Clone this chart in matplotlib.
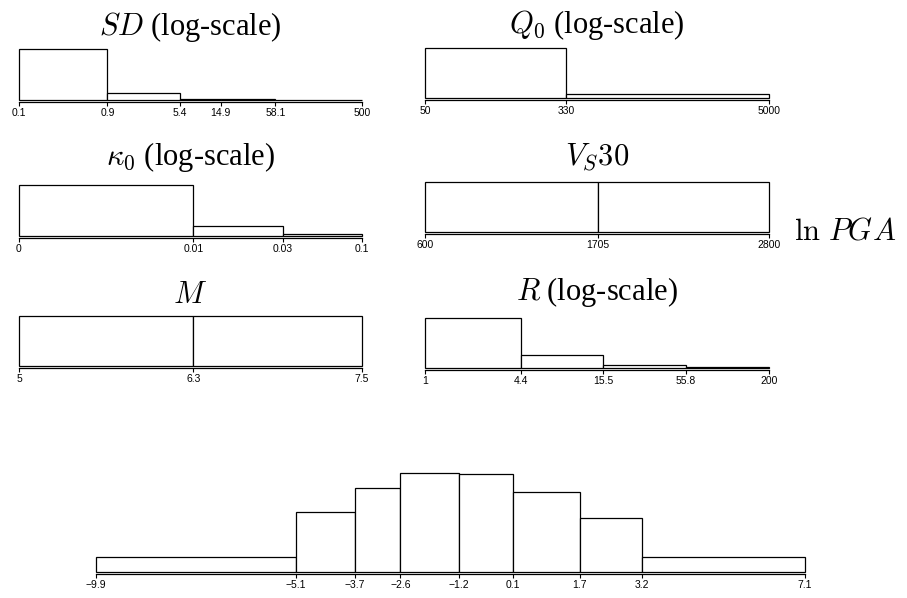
import numpy as np
import matplotlib
matplotlib.use("Agg")
import matplotlib.pyplot as plt

plt.rcParams['mathtext.fontset'] = 'cm'
plt.rcParams['font.family'] = ['Liberation Serif', 'DejaVu Serif']

# bin edges, relative bar heights and tick labels
sd_edges = [0.1, 0.9, 5.4, 14.9, 58.1, 500]
sd_heights = [1.0, 0.127, 0.02, 0.006, 0.002]
sd_labels = ['0.1', '0.9', '5.4', '14.9', '58.1', '500']

q0_edges = [50, 330, 5000]
q0_heights = [1.0, 0.068]
q0_labels = ['50', '330', '5000']

kappa_edges = [0.00073, 0.0089, 0.032, 0.1]
kappa_heights = [1.0, 0.19, 0.045]
kappa_labels = ['0', '0.01', '0.03', '0.1']

vs30_edges = [600, 1705, 2800]
vs30_heights = [1.0, 1.0]
vs30_labels = ['600', '1705', '2800']

m_edges = [5, 6.27, 7.5]
m_heights = [1.0, 1.0]
m_labels = ['5', '6.3', '7.5']

r_edges = [1, 4.4, 15.5, 55.8, 200]
r_heights = [1.0, 0.26, 0.066, 0.014]
r_labels = ['1', '4.4', '15.5', '55.8', '200']

pga_edges = [-9.9, -5.1, -3.7, -2.6, -1.2, 0.1, 1.7, 3.2, 7.1]
pga_heights = [14.7, 59.4, 84, 98.7, 98, 79.4, 54, 14.7]
pga_labels = [f"{v:.1f}".replace('-', '\u2212') for v in pga_edges]

W, H = 907, 598
fig = plt.figure(figsize=(W / 100, H / 100), dpi=100)


def panel(x0, x1, ybase, ytop, edges, heights, labels, log=False, title=None, ty=None):
    ax = fig.add_axes([x0 / W, 1 - ybase / H, (x1 - x0) / W, (ybase - ytop) / H])
    if log:
        ax.set_xscale('log')
    ax.bar(edges[:-1], heights, width=np.diff(edges), align='edge',
           color='white', edgecolor='black', linewidth=0.9, clip_on=False)
    ax.set_xlim(edges[0], edges[-1])
    ax.set_ylim(0, max(heights))
    for s in ['top', 'left', 'right']:
        ax.spines[s].set_visible(False)
    ax.spines['bottom'].set_position(('outward', 1.5))
    ax.spines['bottom'].set_bounds(edges[0], edges[-1])
    ax.spines['bottom'].set_linewidth(0.9)
    ax.set_yticks([])
    ax.minorticks_off()
    ax.set_xticks(edges)
    ax.set_xticklabels(labels, family='Liberation Sans', fontsize=7.5)
    ax.tick_params(axis='x', length=3, width=0.8, pad=1.5)
    if title:
        fig.text((x0 + x1) / 2 / W, 1 - ty / H, title, ha='center', va='baseline', fontsize=22)
    return ax


panel(19, 362, 99.7, 49.3, sd_edges, sd_heights, sd_labels, log=True,
      title='$SD$ (log-scale)', ty=35)
panel(425, 769, 97.7, 47.7, q0_edges, q0_heights, q0_labels, log=True,
      title='$Q_0$ (log-scale)', ty=33)
panel(19, 362, 236, 185.3, kappa_edges, kappa_heights, kappa_labels, log=True,
      title='$\\kappa_0$ (log-scale)', ty=165)
panel(425, 769, 231.5, 182, vs30_edges, vs30_heights, vs30_labels,
      title='$V_S30$', ty=165)
panel(19, 362, 365.5, 316, m_edges, m_heights, m_labels,
      title='$M$', ty=303)
panel(425, 769, 368, 317.7, r_edges, r_heights, r_labels, log=True,
      title='$R$ (log-scale)', ty=300)
panel(96, 805, 571.5, 473, pga_edges, pga_heights, pga_labels)

fig.text(794 / W, 1 - 240 / H, '$\\ln\\,PGA$', ha='left', va='baseline', fontsize=22)

fig.savefig('out.png', dpi=100)
